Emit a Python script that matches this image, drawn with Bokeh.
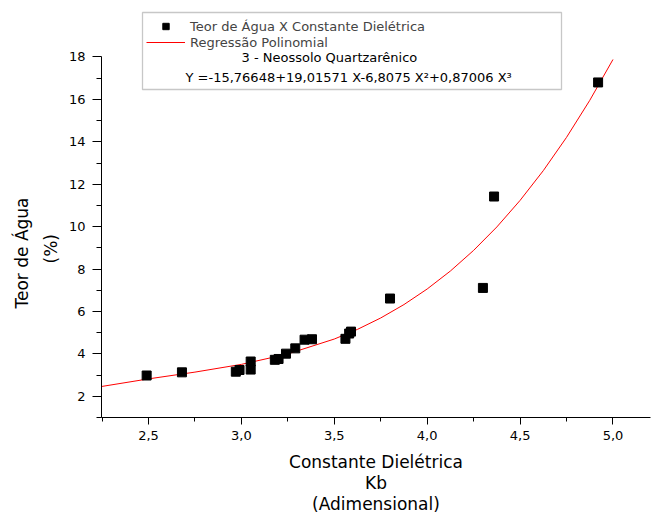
from bokeh.plotting import figure
from bokeh.models import (FixedTicker, Legend, LegendItem, Label, BoxAnnotation,
                          Range1d, Title)
from bokeh.embed import file_html
from bokeh.resources import INLINE

# ---- data ----
kb = [2.49, 2.68, 2.97, 2.99, 3.05, 3.05, 3.18, 3.20, 3.24, 3.29, 3.34, 3.38,
      3.56, 3.58, 3.59, 3.80, 4.30, 4.36, 4.92]
teor = [2.98, 3.13, 3.16, 3.24, 3.64, 3.26, 3.72, 3.76, 4.01, 4.26, 4.67, 4.69,
        4.71, 4.96, 5.05, 6.61, 7.11, 11.42, 16.80]

curve_x = [2.25, 2.5, 2.75, 3.0, 3.25, 3.5, 3.625, 3.75, 3.875, 4.0, 4.125,
           4.25, 4.375, 4.5, 4.625, 4.75, 4.875, 5.0]
curve_y = [2.466, 2.821, 3.140, 3.505, 3.998, 4.700, 5.156, 5.694, 6.325, 7.060,
           7.908, 8.881, 9.986, 11.237, 12.641, 14.210, 15.954, 17.882]

x_ticks = [2.5, 3.0, 3.5, 4.0, 4.5, 5.0]
x_tick_labels = ["2,5", "3,0", "3,5", "4,0", "4,5", "5,0"]
x_minor = [2.25, 2.75, 3.25, 3.75, 4.25, 4.75]
y_ticks = [2, 4, 6, 8, 10, 12, 14, 16, 18]
y_minor = [1, 3, 5, 7, 9, 11, 13, 15, 17]

legend_labels = ["Teor de Água X Constante Dielétrica", "Regressão Polinomial"]
legend_title = "3 - Neossolo Quartzarênico"
equation = "Y =-15,76648+19,01571 X-6,8075 X²+0,87006 X³"
x_title = "Constante Dielétrica\nKb\n(Adimensional)"
y_title_lines = ["Teor de Água", "(%)"]

FONT = "DejaVu Sans"

p = figure(frame_width=549, frame_height=417, output_backend="svg",
           toolbar_location=None,
           x_range=Range1d(2.247, 5.202), y_range=Range1d(1, 20.664),
           min_border_left=101, min_border_right=1, min_border_top=0,
           min_border_bottom=100)
p.outline_line_color = None
p.xgrid.visible = False
p.ygrid.visible = False
p.background_fill_color = "white"
p.border_fill_color = "white"

line_r = p.line(curve_x, curve_y, line_color="#ff0000", line_width=1)
pts_r = p.scatter(kb, teor, marker="square", size=9, fill_color="black",
                  line_color="black")

# axes
for ax in (p.xaxis[0], p.yaxis[0]):
    ax.axis_line_color = "black"
    ax.axis_line_width = 1
    ax.major_tick_line_color = "black"
    ax.minor_tick_line_color = "black"
    ax.major_tick_in = 0
    ax.minor_tick_in = 0
    ax.major_label_text_font = FONT
    ax.major_label_text_color = "black"
    ax.major_label_text_font_size = "13px"
    ax.axis_label_text_font = FONT
    ax.axis_label_text_font_style = "normal"
    ax.axis_label_text_color = "black"

p.xaxis.ticker = FixedTicker(ticks=x_ticks, minor_ticks=x_minor)
p.xaxis.major_label_overrides = {t: l for t, l in zip(x_ticks, x_tick_labels)}
p.xaxis.major_tick_out = 7
p.xaxis.minor_tick_out = 4
p.xaxis.major_label_standoff = 6
p.xaxis.axis_label = x_title
p.xaxis.axis_label_text_font_size = "17px"
p.xaxis.axis_label_text_line_height = 1.05
p.xaxis.axis_label_standoff = 9

p.yaxis.ticker = FixedTicker(ticks=y_ticks, minor_ticks=y_minor)
p.yaxis.bounds = (1, 18)
p.yaxis.major_tick_out = 9
p.yaxis.minor_tick_out = 5
p.yaxis.major_label_standoff = 7

# y-axis title as two left-side titles, placed lower as in the original
p.add_layout(Title(text=y_title_lines[1], align="left", offset=154,
                   vertical_align="middle", standoff=8,
                   text_font=FONT, text_font_size="17px",
                   text_font_style="normal", text_color="black"), "left")
p.add_layout(Title(text=y_title_lines[0], align="left", offset=109,
                   vertical_align="middle", standoff=6,
                   text_font=FONT, text_font_size="17px",
                   text_font_style="normal", text_color="black"), "left")

# legend
legend = Legend(items=[LegendItem(label=legend_labels[0], renderers=[pts_r]),
                       LegendItem(label=legend_labels[1], renderers=[line_r])],
                location=(45, 367), padding=0, margin=0, spacing=0,
                glyph_width=39, glyph_height=16, label_height=16,
                label_standoff=5, label_text_font=FONT,
                label_text_font_size="13px", border_line_color=None,
                background_fill_alpha=0)
p.add_layout(legend, "center")

box = BoxAnnotation(left=41, right=460, top=405, bottom=328,
                    left_units="screen", right_units="screen",
                    top_units="screen", bottom_units="screen",
                    fill_alpha=0, line_color="#444444", line_width=1.3)
p.add_layout(box)

p.add_layout(Label(x=140, y=359.7, x_units="screen", y_units="screen",
                   text=legend_title, text_font=FONT, text_font_size="13px",
                   text_baseline="middle", text_color="black"))
p.add_layout(Label(x=84, y=340.3, x_units="screen", y_units="screen",
                   text=equation, text_font=FONT, text_font_size="13px",
                   text_baseline="middle", text_color="black"))

open("out.html", "w").write(file_html(p, INLINE))
